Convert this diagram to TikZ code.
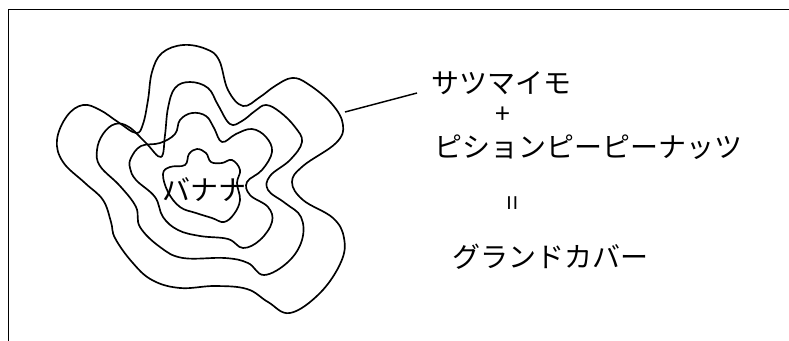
\documentclass[tikz,border=0pt]{standalone}
\usepackage{fontspec}
\setmainfont{Noto Sans CJK JP}
\usepackage{tikz}
\usetikzlibrary{positioning,calc}

\begin{document}
\begin{tikzpicture}[
    x=0.75pt, y=-0.75pt,
    frame/.style={draw, line width=1.3pt},
    contour/.style={draw, line width=1.25pt, line join=round},
    lead/.style={draw, line width=1.1pt},
    label/.style={font=\fontsize{21}{24}\selectfont, inner sep=0pt},
    sign/.style={font=\fontsize{20}{24}\selectfont, inner sep=0pt}
]
\useasboundingbox (0,0) rectangle (789,340);

% Frame (only the top and left edges fall inside the page)
\draw [frame] (8.5,360) -- (8.5,9.5) -- (800,9.5);

% Contours, outermost first
\draw [contour] plot [smooth cycle, tension=0.65] coordinates {
    (57,140) (67,116) (83,105) (100,110) (118,122) (136,133) (143,124)
    (148,100) (152,72) (162,53) (183,45) (206,49) (219,60) (228,90)
    (243,106) (260,97) (275,86) (292,78) (308,84) (332,104) (343,125)
    (336,143) (303,166) (292,182) (303,200) (333,218) (344,238) (341,262)
    (320,293) (290,313) (268,302) (247,289) (215,286) (180,288) (152,280)
    (132,262) (115,238) (111,222) (103,200) (85,183) (63,162)};
\draw [contour] plot [smooth cycle, tension=0.65] coordinates {
    (97,150) (103,134) (115,124) (129,127) (146,143) (161,157) (165,135)
    (168,108) (175,88) (190,82) (208,88) (218,105) (230,124) (242,121)
    (255,111) (266,105) (280,112) (295,127) (302,142) (290,160) (270,176)
    (268,190) (285,203) (301,217) (302,240) (288,262) (264,275) (248,263)
    (225,258) (183,258) (160,247) (140,227) (136,207) (120,186) (100,166)};
\draw [contour] plot [smooth cycle, tension=0.65] coordinates {
    (131,158) (141,146) (160,143) (175,134) (180,120) (192,113) (206,116)
    (214,128) (222,142) (236,134) (252,129) (266,137) (272,152) (262,170)
    (247,182) (250,195) (268,207) (272,222) (260,240) (243,248) (228,239)
    (200,236) (178,230) (163,217) (155,197) (136,180) (130,168)};
\draw [contour] plot [smooth cycle, tension=0.65] coordinates {
    (163,174) (170,167) (185,165) (189,154) (197,149) (206,153) (211,162)
    (222,163) (232,160) (240,170) (237,183) (240,200) (234,214) (224,222)
    (212,218) (196,213) (180,207) (168,192)};

% Label inside the contours
\node [label] (core) at (204,190) {バナナ};

% Labels on the right
\node [label] (imo) at (501,83) {サツマイモ};
\node [sign] (plus) at (503,115) {+};
\node [label] (pea) at (588,147) {ピションピーピーナッツ};
\node [sign, rotate=90] (equals) at (516,203) {=};
\node [label] (cover) at (550,257) {グランドカバー};

% Leader from the outer contour to the labels
\coordinate (rim) at (345,112);
\coordinate (tail) at (417,93);
\path [lead] (rim) -- (tail);

\end{tikzpicture}
\end{document}
